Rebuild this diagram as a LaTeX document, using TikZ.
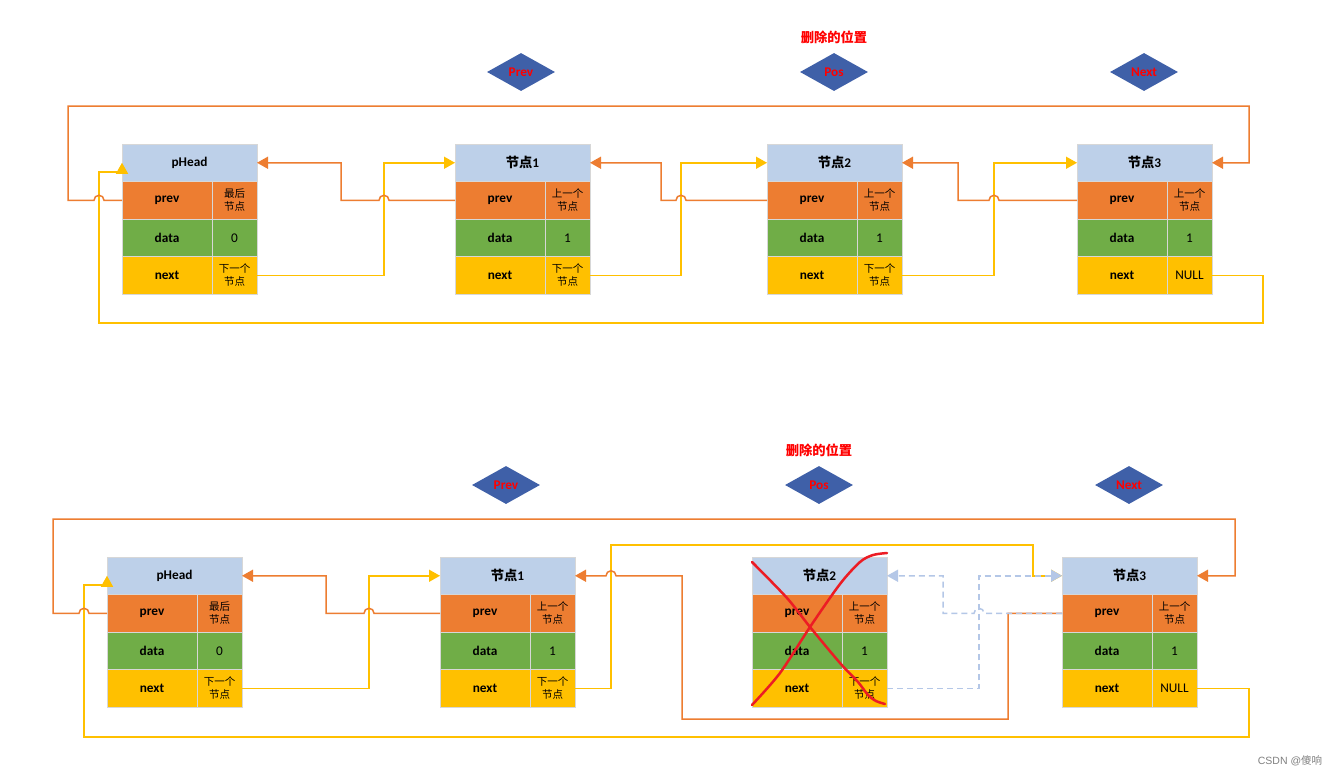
\documentclass[tikz,border=0pt]{standalone}
\usepackage{fontspec}
\setmainfont{Carlito}
\newfontfamily\cjk{Noto Sans CJK SC}
\newfontfamily\wmfont{Liberation Sans}
\usetikzlibrary{arrows.meta,shapes.geometric}
\definecolor{hdr}{RGB}{189,208,233}
\definecolor{cprev}{RGB}{237,125,49}
\definecolor{cdata}{RGB}{112,173,71}
\definecolor{cnext}{RGB}{255,192,0}
\definecolor{cline}{RGB}{215,215,215}
\definecolor{olink}{RGB}{237,125,49}
\definecolor{ylink}{RGB}{255,192,0}
\definecolor{dlink}{RGB}{180,199,231}
\definecolor{dia}{RGB}{63,96,168}
\definecolor{xred}{RGB}{236,28,36}
\tikzset{
  cell/.style={draw=cline, line width=0.8pt, inner sep=0pt, outer sep=0pt, anchor=north west,
    minimum height=37.5pt, font=\bfseries\fontsize{13.3}{15}\selectfont},
  lcell/.style={cell, minimum width=90pt},
  rcell/.style={cell, minimum width=45pt, font=\fontsize{10.5}{13}\selectfont, align=center},
  hcell/.style={cell, minimum width=135pt, fill=hdr},
  tip/.style={-{Triangle[length=11pt,width=12pt]}},
  oline/.style={draw=olink, line width=1.5pt, tip},
  yline/.style={draw=ylink, line width=1.5pt, tip},
  dline/.style={draw=dlink, line width=1.5pt, dash pattern=on 6pt off 4pt, tip},
  dmd/.style={diamond, fill=dia, minimum width=68pt, minimum height=38pt, inner sep=0pt,
    text=red, font=\bfseries\fontsize{13.3}{15}\selectfont},
  lbl/.style={text=red, font=\cjk\bfseries\fontsize{13.3}{15}\selectfont},
  xline/.style={draw=xred, line width=2.5pt, line cap=round, line join=round}
}
\newcommand\vnum[1]{{\fontsize{13.3}{15}\selectfont #1}}
\newcommand\lnode[7]{%
  \node[hcell] (#1h) at (#2,-#3) {#4};
  \node[lcell,fill=cprev] (#1p) at (#1h.south west) {prev};
  \node[rcell,fill=cprev] (#1pv) at (#1p.north east) {#5};
  \node[lcell,fill=cdata] (#1d) at (#1p.south west) {data};
  \node[rcell,fill=cdata] (#1dv) at (#1d.north east) {#6};
  \node[lcell,fill=cnext] (#1n) at (#1d.south west) {next};
  \node[rcell,fill=cnext] (#1nv) at (#1n.north east) {#7};
}
\begin{document}
\begin{tikzpicture}[x=1pt,y=1pt]
\useasboundingbox (0,0) rectangle (1339,-777);
\fill[white] (0,0) rectangle (1339,-777);

% ---------- top row ----------
\node[lbl] (t1) at (834,-37) {删除的位置};
\node[dmd] (tprev) at (521,-72) {Prev};
\node[dmd] (tpos) at (834,-72) {Pos};
\node[dmd] (tnext) at (1144,-72) {Next};

\lnode{a}{122}{144}{pHead}{\cjk 最后\\\cjk 节点}{\vnum{0}}{\cjk 下一个\\\cjk 节点}
\lnode{b}{455}{144}{{\cjk 节点}1}{\cjk 上一个\\\cjk 节点}{\vnum{1}}{\cjk 下一个\\\cjk 节点}
\lnode{c}{767}{144}{{\cjk 节点}2}{\cjk 上一个\\\cjk 节点}{\vnum{1}}{\cjk 下一个\\\cjk 节点}
\lnode{d}{1077}{144}{{\cjk 节点}3}{\cjk 上一个\\\cjk 节点}{\vnum{1}}{\vnum{NULL}}

\draw[yline] (dnv.east) -- (1263,-275.25) -- (1263,-323) -- (99,-323) -- (99,-172) -- (122,-172) -- (ah.west);
\draw[oline] (ap.west) -- (104,-200.25) arc[start angle=0,end angle=180,radius=5pt] -- (68,-200.25) -- (68,-106) -- (1249,-106) -- (1249,-162.75) -- (dh.east);
\draw[yline] (anv.east) -- (384,-275.25) -- (384,-162.75) -- (bh.west);
\draw[oline] (bp.west) -- (389,-200.25) arc[start angle=0,end angle=180,radius=5pt] -- (341,-200.25) -- (341,-162.75) -- (ah.east);
\draw[yline] (bnv.east) -- (681,-275.25) -- (681,-162.75) -- (ch.west);
\draw[oline] (cp.west) -- (686,-200.25) arc[start angle=0,end angle=180,radius=5pt] -- (661,-200.25) -- (661,-162.75) -- (bh.east);
\draw[yline] (cnv.east) -- (994,-275.25) -- (994,-162.75) -- (dh.west);
\draw[oline] (dp.west) -- (999,-200.25) arc[start angle=0,end angle=180,radius=5pt] -- (958,-200.25) -- (958,-162.75) -- (ch.east);

% ---------- bottom row ----------
\node[lbl] (t2) at (819,-450) {删除的位置};
\node[dmd] (bprev) at (506,-485) {Prev};
\node[dmd] (bpos) at (819,-485) {Pos};
\node[dmd] (bnext) at (1129,-485) {Next};

\lnode{e}{107}{557}{pHead}{\cjk 最后\\\cjk 节点}{\vnum{0}}{\cjk 下一个\\\cjk 节点}
\lnode{f}{440}{557}{{\cjk 节点}1}{\cjk 上一个\\\cjk 节点}{\vnum{1}}{\cjk 下一个\\\cjk 节点}
\lnode{g}{752}{557}{{\cjk 节点}2}{\cjk 上一个\\\cjk 节点}{\vnum{1}}{\cjk 下一个\\\cjk 节点}
\lnode{h}{1062}{557}{{\cjk 节点}3}{\cjk 上一个\\\cjk 节点}{\vnum{1}}{\vnum{NULL}}

\draw[yline] (hnv.east) -- (1249,-688.25) -- (1249,-737) -- (84,-737) -- (84,-585) -- (107,-585) -- (eh.west);
\draw[oline] (ep.west) -- (89,-613.25) arc[start angle=0,end angle=180,radius=5pt] -- (53,-613.25) -- (53,-519) -- (1235,-519) -- (1235,-575.75) -- (hh.east);
\draw[yline] (env.east) -- (369,-688.25) -- (369,-575.75) -- (fh.west);
\draw[oline] (fp.west) -- (374,-613.25) arc[start angle=0,end angle=180,radius=5pt] -- (326,-613.25) -- (326,-575.75) -- (eh.east);
\draw[yline] (fnv.east) -- (611,-688.25) -- (611,-545) -- (1033,-545) -- (1033,-575.75) -- (hh.west);
\draw[oline] (hp.west) -- (1008,-613.25) -- (1008,-719) -- (682,-719) -- (682,-575.75) -- (616,-575.75) arc[start angle=0,end angle=180,radius=5pt] -- (fh.east);
\draw[dline] (hp.west) -- (984,-613.25) arc[start angle=0,end angle=180,radius=5pt] -- (943,-613.25) -- (943,-575.75) -- (gh.east);
\draw[dline] (gnv.east) -- (979,-688.25) -- (979,-575.75) -- (hh.west);

% red cross over node 2
\draw[xline] plot[smooth] coordinates {(752,-562) (787,-598) (810,-627) (840,-663) (858,-682) (868,-695) (876,-701) (885,-704)};
\draw[xline] plot[smooth] coordinates {(752,-705) (780,-673) (810,-627) (840,-584) (860,-562) (873,-555) (887,-553)};

\node[text=gray, font=\wmfont\fontsize{10.5}{12}\selectfont] (wm) at (1290,-761) {CSDN @{\cjk 傻响}};
\end{tikzpicture}
\end{document}
